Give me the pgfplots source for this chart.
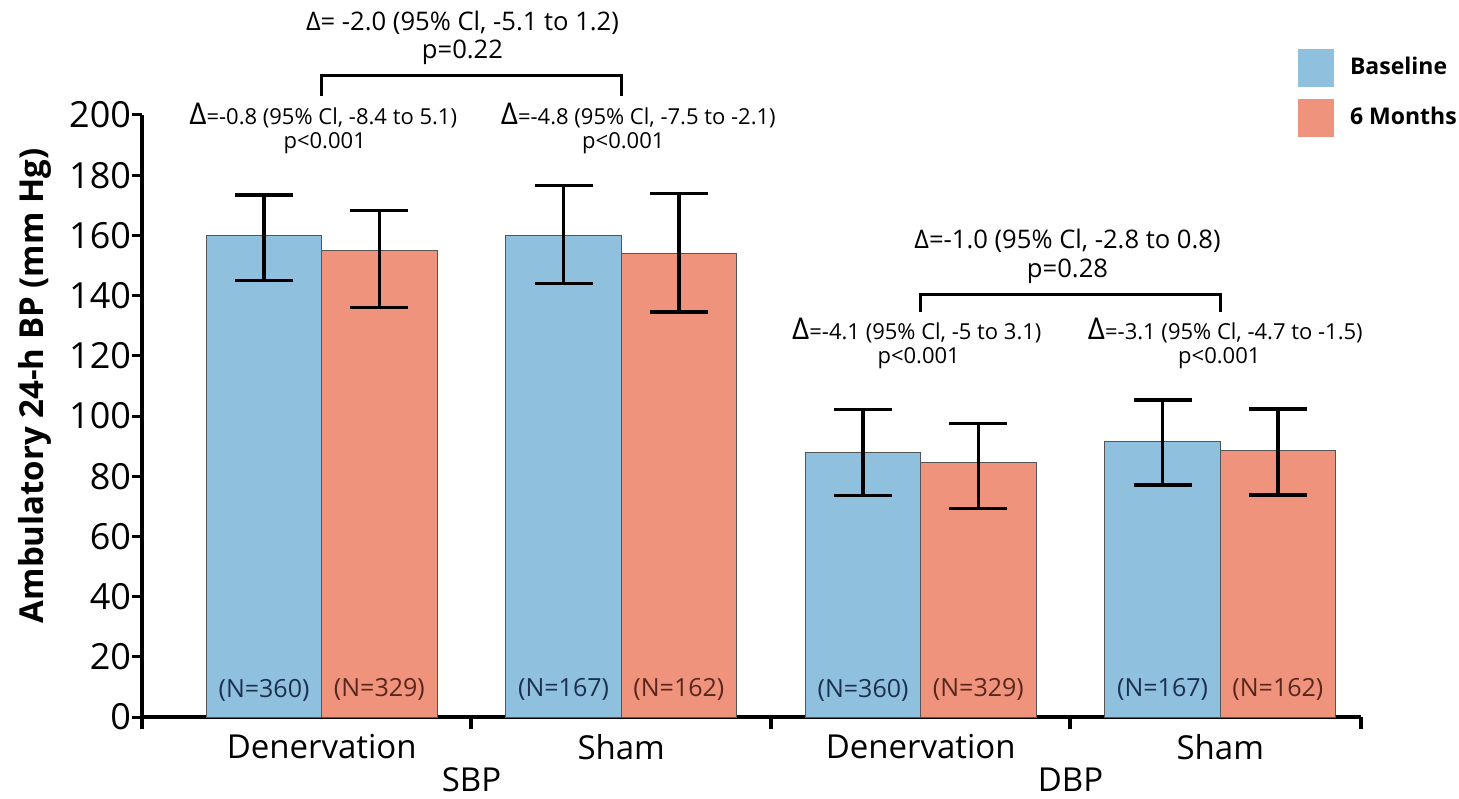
\documentclass[border=0pt]{standalone}
\usepackage{pgfplots}
\pgfplotsset{compat=1.18}
\usepackage{fontspec}
\setmainfont{Open Sans}
\definecolor{cbase}{RGB}{143,192,221}
\definecolor{csix}{RGB}{239,147,124}
\definecolor{edge}{RGB}{85,85,85}
\definecolor{nbase}{RGB}{28,48,78}
\definecolor{nsix}{RGB}{88,38,28}
\newcommand{\subfont}{\fontsize{11}{13}\selectfont}
\newcommand{\topfont}{\fontsize{12.8}{15}\selectfont}
\newcommand{\nfont}{\fontsize{12.5}{14}\selectfont}
\newcommand{\bigD}{{\fontsize{15}{15}\selectfont Δ}}
\begin{document}
\begin{tikzpicture}
\path[use as bounding box] (-71pt,-40.5pt) rectangle (658.5pt,358.5pt);
\begin{axis}[
  at={(0,0)}, anchor=south west,
  scale only axis, width=609.5pt, height=301pt,
  xmin=-0.6, xmax=3.47, ymin=0, ymax=200,
  clip=false,
  axis x line=bottom, axis y line=left,
  axis line style={-, line width=2pt, black},
  ytick={0,20,...,200},
  xtick={0,1,2,3},
  xticklabels={Denervation,Sham,Denervation,Sham},
  minor xtick={-0.6,0.5,1.5,2.5,3.47},
  every major x tick/.append style={draw=none},
  every minor x tick/.append style={line width=2pt, black},
  every major y tick/.append style={line width=1.5pt, black},
  tick align=outside,
  major tick length=5pt, minor tick length=6pt,
  /pgf/number format/assume math mode=true,
  yticklabel style={font=\fontsize{18}{18}\selectfont, xshift=3pt},
  xticklabel style={font=\fontsize{16.5}{18}\selectfont},
  ylabel={Ambulatory 24-h BP (mm Hg)},
  ylabel style={font=\bfseries\fontsize{16.5}{18}\selectfont, at={(axis description cs:-0.0878,0.55)}, anchor=center},
  legend style={at={(axis description cs:0.948,1.111)}, anchor=north west, draw=none, fill=none,
    font=\bfseries\fontsize{11.5}{13}\selectfont, row sep=6pt, inner sep=0pt,
    cells={anchor=west}, /tikz/every odd column/.append style={column sep=6pt}},
  error bars/error bar style={line width=1.75pt, black},
  error bars/error mark options={rotate=90, line width=1.75pt, black, mark size=14.5pt},
]
\addplot[ybar, bar width=0.385, bar shift=0, fill=cbase, draw=edge, line width=0.5pt,
  legend image code/.code={\fill[cbase] (0pt,-9.25pt) rectangle (17.5pt,9.25pt);},
  error bars/.cd, y dir=both, y explicit]
coordinates {
  (-0.1925,160) += (0,13.5) -= (0,15)
  (0.8075,160) += (0,16.5) -= (0,16)
  (1.8075,87.8) += (0,14.3) -= (0,14.2)
  (2.8075,91.6) += (0,13.7) -= (0,14.6)
};
\addlegendentry{Baseline}
\addplot[ybar, bar width=0.385, bar shift=0, fill=csix, draw=edge, line width=0.5pt,
  legend image code/.code={\fill[csix] (0pt,-9.25pt) rectangle (17.5pt,9.25pt);},
  error bars/.cd, y dir=both, y explicit]
coordinates {
  (0.1925,155) += (0,13.3) -= (0,19)
  (1.1925,154) += (0,20) -= (0,19.5)
  (2.1925,84.4) += (0,13.1) -= (0,15.2)
  (3.1925,88.5) += (0,13.8) -= (0,14.7)
};
\addlegendentry{6 Months}

% N labels
\node[font=\nfont, text=nbase] at (axis cs:-0.1925,9) {(N=360)};
\node[font=\nfont, text=nbase] at (axis cs:0.8075,9) {(N=167)};
\node[font=\nfont, text=nbase] at (axis cs:1.8075,9) {(N=360)};
\node[font=\nfont, text=nbase] at (axis cs:2.8075,9) {(N=167)};
\node[font=\nfont, text=nsix] at (axis cs:0.1925,9) {(N=329)};
\node[font=\nfont, text=nsix] at (axis cs:1.1925,9) {(N=162)};
\node[font=\nfont, text=nsix] at (axis cs:2.1925,9) {(N=329)};
\node[font=\nfont, text=nsix] at (axis cs:3.1925,9) {(N=162)};

% group labels
\node[font=\fontsize{16.5}{18}\selectfont] at (axis cs:0.5,0) [yshift=-31.5pt] {SBP};
\node[font=\fontsize{16.5}{18}\selectfont] at (axis cs:2.5,0) [yshift=-31.5pt] {DBP};

% SBP brackets and annotations
\draw[line width=1.5pt] (axis cs:0,206.3) -- (axis cs:0,213) -- (axis cs:1,213) -- (axis cs:1,206.3);
\node[font=\topfont] at (axis cs:0.47,230.6) {Δ= -2.0 (95\% Cl, -5.1 to 1.2)};
\node[font=\topfont] at (axis cs:0.47,220.9) {p=0.22};
\node[font=\subfont, anchor=base, inner sep=0pt] at (axis cs:0.005,197.0) {\bigD=-0.8 (95\% Cl, -8.4 to 5.1)};
\node[font=\subfont, anchor=base, inner sep=0pt] at (axis cs:0.01,189.0) {p<0.001};
\node[font=\subfont, anchor=base, inner sep=0pt] at (axis cs:1.057,197.0) {\bigD=-4.8 (95\% Cl, -7.5 to -2.1)};
\node[font=\subfont, anchor=base, inner sep=0pt] at (axis cs:1.007,189.0) {p<0.001};

% DBP brackets and annotations
\draw[line width=1.5pt] (axis cs:2,134.6) -- (axis cs:2,140.5) -- (axis cs:3,140.5) -- (axis cs:3,134.6);
\node[font=\topfont] at (axis cs:2.49,158.1) {Δ=-1.0 (95\% Cl, -2.8 to 0.8)};
\node[font=\topfont] at (axis cs:2.49,148.2) {p=0.28};
\node[font=\subfont, anchor=base, inner sep=0pt] at (axis cs:1.987,125.5) {\bigD=-4.1 (95\% Cl, -5 to 3.1)};
\node[font=\subfont, anchor=base, inner sep=0pt] at (axis cs:1.993,117.5) {p<0.001};
\node[font=\subfont, anchor=base, inner sep=0pt] at (axis cs:3.017,125.5) {\bigD=-3.1 (95\% Cl, -4.7 to -1.5)};
\node[font=\subfont, anchor=base, inner sep=0pt] at (axis cs:2.997,117.5) {p<0.001};
\end{axis}
\end{tikzpicture}
\end{document}
